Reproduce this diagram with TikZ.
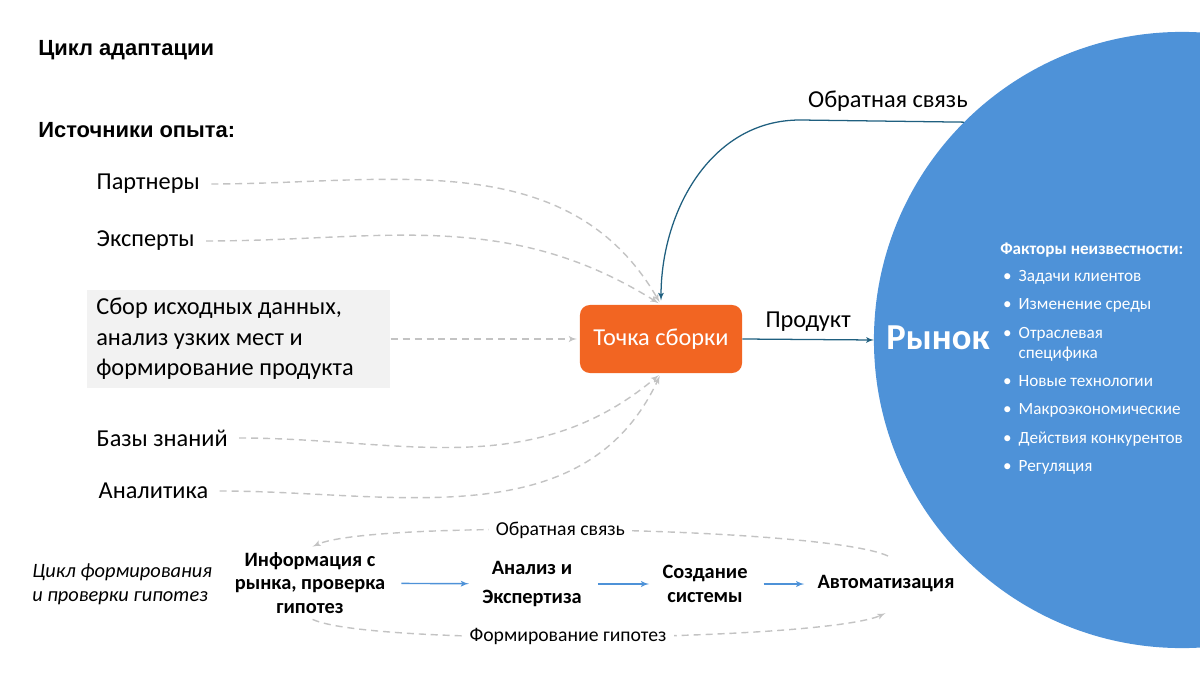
\documentclass[tikz,border=0pt]{standalone}
\usepackage{fontspec}
\setmainfont{Carlito}
\newfontfamily\headfont{Liberation Sans}
\usetikzlibrary{arrows,positioning,calc}
\definecolor{pointorange}{HTML}{F26522}
\definecolor{marketblue}{HTML}{4E92D8}
\definecolor{linkteal}{HTML}{1F5F7F}
\definecolor{dashgray}{HTML}{C3C3C3}
\definecolor{boxgray}{HTML}{F2F2F2}

\begin{document}
\begin{tikzpicture}[
    x=0.025cm, y=-0.025cm,
    >=latex',
    font=\fontsize{17.3}{21.7}\selectfont,
    heading/.style={
		anchor=west,
		inner sep=0pt,
		font=\headfont\fontsize{15.6}{18}\selectfont\bfseries
	},
    source/.style={
		anchor=west,
		inner sep=1pt
	},
    point/.style={
		rectangle,
		rounded corners=7pt,
		fill=pointorange,
		text=white,
		minimum width=4.05cm,
		minimum height=1.7cm
	},
    feed/.style={
		draw=linkteal,
		line width=0.9pt,
		->
	},
    hint/.style={
		draw=dashgray,
		line width=1pt,
		dash pattern=on 5pt off 3.5pt,
		->,
		shorten <=7pt,
		shorten >=2pt
	},
    stage/.style={
		align=center,
		font=\fontsize{14.5}{16.5}\selectfont\bfseries
	},
    flow/.style={
		draw=marketblue,
		line width=1pt,
		->,
		shorten <=8pt,
		shorten >=6pt
	},
    tag/.style={
		fill=white,
		inner xsep=5pt,
		inner ysep=1pt,
		font=\fontsize{14}{16}\selectfont
	}
  ]
  \clip (0,0) rectangle (1200,675);

  % market circle and its texts
  \node [circle, fill=marketblue, inner sep=0pt, outer sep=0pt, minimum size=15.4cm] (market) at (1182,340) {};
  \node [text=white, font=\fontsize{26}{30}\selectfont\bfseries] (marketname) at (938,338) {Рынок};
  \node [anchor=west, text=white, inner sep=0pt, font=\fontsize{12.2}{14.2}\selectfont] (factors) at (1000,359)
 {%
 \begin{tabular}{@{\hspace{2pt}}l@{\hspace{5pt}}l@{}}
  \multicolumn{2}{@{}l@{}}{\bfseries Факторы неизвестности:}\\[5pt]
  • & Задачи клиентов\\[6pt]
  • & Изменение среды\\[6pt]
  • & Отраслевая\\
    & специфика\\[6pt]
  • & Новые технологии\\[6pt]
  • & Макроэкономические\\[6pt]
  • & Действия конкурентов\\[6pt]
  • & Регуляция
 \end{tabular}
 };

  % headings
  \node [heading] (title) at (38,50) {Цикл адаптации};
  \node [heading] (sourcestitle) at (38,130) {Источники опыта:};

  % sources of experience
  \node [source] (partners) at (95,184) {Партнеры};
  \node [source] (experts) at (95,241) {Эксперты};
  \node [anchor=west, fill=boxgray, inner xsep=0.225cm, inner ysep=0pt, minimum height=2.45cm, text width=7.125cm, align=flush left] (collect) at (87,339)
 {Сбор исходных данных,\\анализ узких мест и\\формирование продукта};
  \node [source] (knowledge) at (95,438) {Базы знаний};
  \node [source] (analytics) at (97,491) {Аналитика};

  % assembly point
  \node [point] (assembly) at (661,339) {Точка сборки};

  \draw [hint] (partners.east) to[out=0, in=120] (assembly.north);
  \draw [hint] (experts.east) to[out=0, in=148] (assembly.north);
  \draw [hint, shorten <=0pt] (collect.east) -- (assembly.west);
  \draw [hint] (knowledge.east) to[out=0, in=-140] (assembly.south);
  \draw [hint] (analytics.east) to[out=0, in=-115] (assembly.south);

  \draw [feed] (assembly.east) -- node [above, yshift=2pt] {Продукт} (market.west);
  \draw [feed] (market.135) -- (800,120) to[out=180, in=90] node [pos=0, above right, xshift=2pt, yshift=2pt] {Обратная связь} ([yshift=3pt]assembly.north);

  % hypothesis cycle
  \node [anchor=west, align=left, inner sep=0pt, font=\fontsize{14.5}{17}\selectfont\itshape] (cyclenote) at (32,584)
 {Цикл формирования\\и проверки гипотез};
  \node [stage] (info) at (310,583) {Информация с\\рынка, проверка\\гипотез};
  \node [stage, font=\fontsize{14.5}{21.3}\selectfont\bfseries] (analysis) at (532,584) {Анализ и\\Экспертиза};
  \node [stage, font=\fontsize{14.5}{17}\selectfont\bfseries] (system) at (705,584) {Создание\\системы};
  \node [stage] (automation) at (886,584) {Автоматизация};

  \draw [flow] (info) -- (analysis);
  \draw [flow] (analysis) -- (system);
  \draw [flow] (system) -- (automation);

  \coordinate (autotop) at (888,556);
  \coordinate (autobottom) at (888,612);
  \draw [hint, shorten <=0pt] (autotop) to[out=155, in=25, looseness=0.3] node [tag, pos=0.55] {Обратная связь} (info.north);
  \draw [hint, shorten <=2pt] (info.south) to[out=-25, in=205, looseness=0.3] node [tag, pos=0.46] {Формирование гипотез} (autobottom);

\end{tikzpicture}
\end{document}
